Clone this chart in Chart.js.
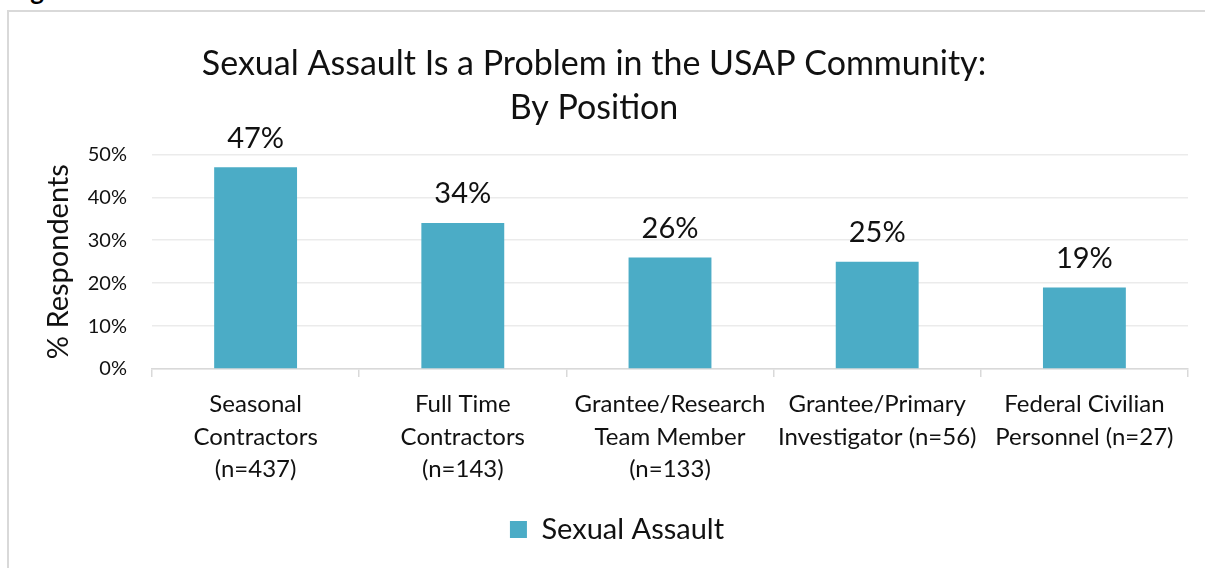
<!DOCTYPE html>
<html>
<head>
<meta charset="utf-8">
<script src="https://cdn.jsdelivr.net/npm/chart.js@4.4.1/dist/chart.umd.min.js"></script>
<style>
  html, body { margin: 0; padding: 0; background: #fff; overflow: hidden; }
  #wrap { position: relative; width: 1205px; height: 568px; overflow: hidden; }
  #frame { position: absolute; left: 7px; top: 10px; width: 1300px; height: 700px; border-left: 2px solid #d9d9d9; border-top: 2px solid #d9d9d9; box-sizing: border-box; }
  #fig { position: absolute; left: 9px; top: -26px; font-family: Lato, sans-serif; font-weight: bold; font-size: 26px; color: #000; white-space: nowrap; }
  #c { position: absolute; left: 0; top: 0; }
</style>
</head>
<body>
<div id="wrap">
  <div id="fig">Figure 6</div>
  <div id="frame"></div>
  <canvas id="c" width="1205" height="568"></canvas>
</div>
<script>
const titleLines = ["Sexual Assault Is a Problem in the USAP Community:", "By Position"];
const categories = [
  ["Seasonal", "Contractors", "(n=437)"],
  ["Full Time", "Contractors", "(n=143)"],
  ["Grantee/Research", "Team Member", "(n=133)"],
  ["Grantee/Primary", "Investigator (n=56)"],
  ["Federal Civilian", "Personnel (n=27)"]
];
const seriesName = "Sexual Assault";
const sexualAssault = [47, 34, 26, 25, 19];
const yTicks = [0, 10, 20, 30, 40, 50];

const FONT = "Lato, 'Open Sans', sans-serif";
const TEXT = "#111";
const BAR = "#4BACC6";

const dataLabels = {
  id: "dataLabels",
  afterDatasetsDraw(chart) {
    const ctx = chart.ctx;
    ctx.save();
    ctx.font = "29px " + FONT;
    ctx.fillStyle = TEXT;
    ctx.textAlign = "center";
    ctx.textBaseline = "middle";
    chart.data.datasets.forEach((ds, di) => {
      chart.getDatasetMeta(di).data.forEach((el, i) => {
        ctx.fillText(ds.data[i] + "%", el.x, el.y - 29);
      });
    });
    ctx.restore();
  }
};

// Excel places the legend slightly right of centre
const legendNudge = {
  id: "legendNudge",
  afterLayout(chart) {
    if (chart.legend) {
      chart.legend.left += 23;
      chart.legend.right += 23;
    }
  }
};

new Chart(document.getElementById("c"), {
  type: "bar",
  data: {
    labels: categories,
    datasets: [{
      label: seriesName,
      data: sexualAssault,
      backgroundColor: BAR,
      borderWidth: 0,
      barPercentage: 0.4,
      categoryPercentage: 1.0
    }]
  },
  options: {
    responsive: false,
    animation: false,
    devicePixelRatio: 1,
    layout: { padding: { left: 0, right: 17, top: 0, bottom: 14 } },
    plugins: {
      title: {
        display: true,
        text: titleLines,
        color: TEXT,
        font: { family: FONT, size: 34, weight: "normal", lineHeight: 1.3 },
        padding: { top: 42, bottom: 24 }
      },
      legend: {
        display: true,
        position: "bottom",
        labels: {
          color: TEXT,
          font: { family: FONT, size: 29 },
          boxWidth: 17,
          boxHeight: 17,
          padding: 10
        }
      },
      tooltip: { enabled: false }
    },
    scales: {
      x: {
        offset: true,
        grid: {
          offset: true,
          drawOnChartArea: false,
          drawTicks: true,
          tickLength: 8,
          color: "#d9d9d9",
          lineWidth: 1.5
        },
        border: { display: true, color: "#d9d9d9", width: 1.5 },
        ticks: {
          color: TEXT,
          font: { family: FONT, size: 24, lineHeight: 1.36 },
          padding: 11,
          maxRotation: 0,
          autoSkip: false
        },
        afterFit(scale) { scale.height = 136; }
      },
      y: {
        min: 0,
        max: 50,
        afterBuildTicks(scale) { scale.ticks = yTicks.map(v => ({ value: v })); },
        grid: { color: "#ebebeb", lineWidth: 1.5, drawTicks: false },
        border: { display: false },
        ticks: {
          color: TEXT,
          font: { family: FONT, size: 20 },
          padding: 25,
          callback: v => v + "%"
        },
        title: {
          display: true,
          text: "% Respondents",
          color: TEXT,
          font: { family: FONT, size: 29 },
          padding: { top: 41, bottom: 0 }
        },
        afterFit(scale) { scale.width = 152; }
      }
    }
  },
  plugins: [dataLabels, legendNudge]
});
</script>
</body>
</html>
